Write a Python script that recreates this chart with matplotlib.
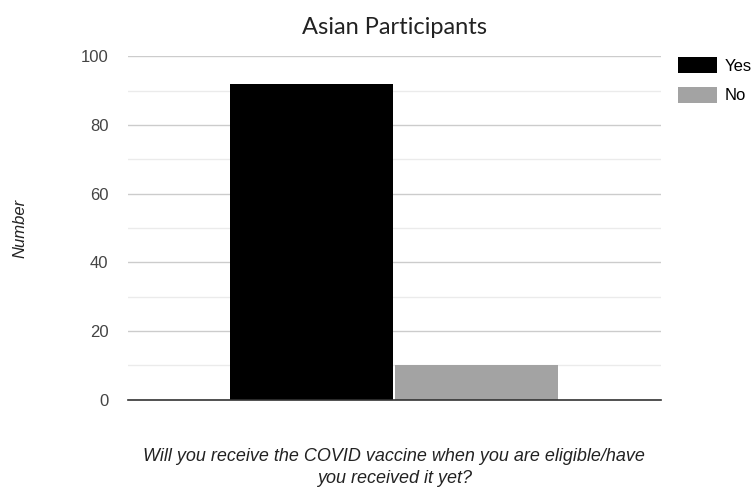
import numpy as np
import matplotlib.pyplot as plt

plt.rcParams['font.family'] = ['Liberation Sans', 'DejaVu Sans']

series = ['Yes', 'No']
values = [92, 10]
colors = ['#000000', '#a3a3a3']

fig = plt.figure(figsize=(7.56, 4.93), dpi=100)
ax = fig.add_axes([0.169, 0.189, 0.705, 0.697])

w = 0.31
offs = [-w / 2, w / 2]
for s, v, c, o in zip(series, values, colors, offs):
    ax.bar(o, v, width=w - 0.004, color=c, label=s, zorder=3)

ax.set_xlim(-0.5, 0.5)
ax.set_ylim(0, 100)
ax.set_yticks(np.arange(0, 101, 20))
ax.set_yticks(np.arange(10, 100, 20), minor=True)
ax.grid(axis='y', which='major', color='#cccccc', lw=1, zorder=0)
ax.grid(axis='y', which='minor', color='#ebebeb', lw=1, zorder=0)
ax.set_xticks([])
ax.tick_params(axis='y', which='both', length=0, pad=14, labelsize=12, labelcolor='#444444')
for sp in ['top', 'right', 'left']:
    ax.spines[sp].set_visible(False)
ax.spines['bottom'].set_color('#333333')
ax.spines['bottom'].set_linewidth(1.2)
ax.spines['bottom'].set_zorder(4)

ax.set_title('Asian Participants', fontsize=17, color='#222222', pad=16, family=['Lato', 'DejaVu Sans'])
ax.set_ylabel('Number', fontsize=12, style='italic', color='#222222', labelpad=0)
ax.yaxis.set_label_coords(-0.188, 0.5)
ax.set_xlabel('Will you receive the COVID vaccine when you are eligible/have\nyou received it yet?',
              fontsize=13, style='italic', color='#222222', labelpad=35, linespacing=1.35)

ax.legend(loc='upper left', bbox_to_anchor=(1.005, 1.04), frameon=False, fontsize=12,
          handlelength=2.3, handleheight=1.1, handletextpad=0.5, labelspacing=0.75)

fig.savefig('out.png', dpi=100)
